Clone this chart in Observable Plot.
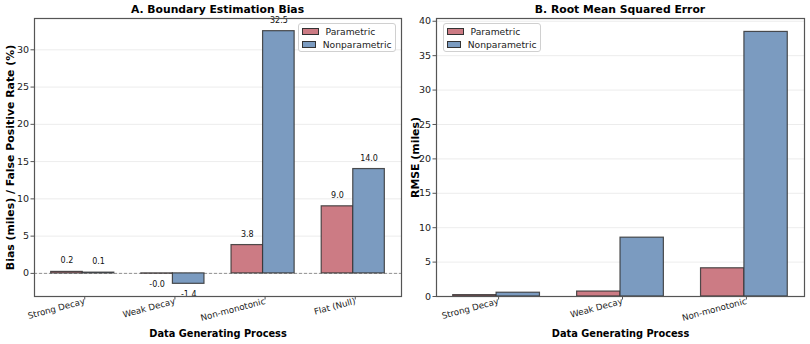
<!DOCTYPE html>
<html><head><meta charset="utf-8">
<script src="https://cdn.jsdelivr.net/npm/d3@7"></script>
<script src="https://cdn.jsdelivr.net/npm/@observablehq/plot@0.6"></script>
<style>
body{margin:0;background:#fff;font-family:"DejaVu Sans",sans-serif;}
#wrap{display:flex;width:810px;height:344px;}
.panel{position:relative;width:405px;height:344px;}
.title{height:16px;line-height:20px;font-weight:bold;font-size:10.8px;text-align:center;color:#000;box-sizing:border-box;white-space:nowrap;}
.legend{position:absolute;border:1px solid #d0d0d0;border-radius:3px;background:rgba(255,255,255,0.85);font-size:9.2px;box-sizing:border-box;padding:2px 3px;color:#222;}
.legend .row{display:flex;align-items:center;height:12.5px;}
.legend .sw{width:17px;height:7px;border:1px solid #333;margin-right:7px;box-sizing:border-box;}
svg{overflow:visible;}
</style>
</head><body>
<div id="wrap">
  <div class="panel" id="pA"></div>
  <div class="panel" id="pB"></div>
</div>
<script>
const categoriesA = ["Strong Decay", "Weak Decay", "Non-monotonic", "Flat (Null)"];
const biasParametric = [0.2, -0.04, 3.8, 9.0];
const biasNonparametric = [0.1, -1.4, 32.5, 14.0];

const categoriesB = ["Strong Decay", "Weak Decay", "Non-monotonic"];
const rmseParametric = [0.2, 0.72, 4.1];
const rmseNonparametric = [0.55, 8.55, 38.45];

const seriesNames = ["Parametric", "Nonparametric"];
const colParam = "#cc7b84";
const colNon = "#7b9bc0";
const barW = 0.35;
const fmt = v => v.toFixed(1);

function rows(cats, p, n) {
  const out = [];
  cats.forEach((c, i) => {
    out.push({i, cat: c, series: seriesNames[0], value: p[i], x1: i - barW, x2: i, xc: i - barW / 2});
    out.push({i, cat: c, series: seriesNames[1], value: n[i], x1: i, x2: i + barW, xc: i + barW / 2});
  });
  return out;
}

function panel(el, opts) {
  const {cats, data, yDomain, yTicks, title, ylabel, mLeft, mRight, labels, zeroRule, legendLeft} = opts;
  const W = 405, H = 328;
  const n = cats.length;
  const xDomain = [-barW - 0.05 * (n - 1 + 2 * barW), n - 1 + barW + 0.05 * (n - 1 + 2 * barW)];
  const t = document.createElement("div");
  t.className = "title";
  t.style.marginLeft = mLeft + "px";
  t.style.width = (W - mLeft - mRight) + "px";
  t.textContent = title;
  el.appendChild(t);

  const marks = [
    Plot.gridY(yTicks, {stroke: "#b0b0b0", strokeOpacity: 0.3, strokeWidth: 0.8}),
  ];
  if (zeroRule) marks.push(Plot.ruleY([0], {stroke: "#888", strokeDasharray: "3,2", strokeWidth: 0.9}));
  marks.push(
    Plot.rect(data, {x1: "x1", x2: "x2", y1: 0, y2: "value", fill: d => d.series === seriesNames[0] ? colParam : colNon, stroke: "#333", strokeWidth: 1.2, strokeOpacity: 0.85})
  );
  if (labels) {
    marks.push(Plot.text(data.filter(d => d.value >= 0), {x: "xc", y: "value", text: d => fmt(d.value), dy: -11, fontSize: 8, fill: "#111"}));
    marks.push(Plot.text(data.filter(d => d.value < 0), {x: "xc", y: "value", text: d => fmt(d.value), dy: 11, fontSize: 8, fill: "#111"}));
  }
  marks.push(
    Plot.frame({stroke: "#555", strokeWidth: 1.2}),
    Plot.axisY(yTicks, {tickSize: 3.5, tickPadding: 2, label: null, fontSize: 9.5, stroke: "#555"}),
    Plot.axisX(d3.range(n), {tickSize: 3.5, tickPadding: 1, tickRotate: -15, tickFormat: i => cats[i], label: null, fontSize: 8.7, dx: 2, stroke: "#555"}),
    Plot.text([ylabel], {frameAnchor: "left", dx: -(mLeft - 10), rotate: -90, textAnchor: "middle", lineAnchor: "middle", fontWeight: "bold", fontSize: 10.9, fill: "#000"}),
    Plot.text(["Data Generating Process"], {frameAnchor: "bottom", dy: 37, textAnchor: "middle", lineAnchor: "middle", fontWeight: "bold", fontSize: 9.8, fill: "#000"})
  );

  const p = Plot.plot({
    width: W, height: H,
    marginTop: 2, marginBottom: 48, marginLeft: mLeft, marginRight: mRight,
    style: {fontFamily: "DejaVu Sans, sans-serif", fontSize: "9.5px", color: "#222", background: "white", overflow: "visible"},
    x: {type: "linear", domain: xDomain},
    y: {domain: yDomain},
    marks
  });
  el.appendChild(p);

  const lg = document.createElement("div");
  lg.className = "legend";
  lg.style.left = legendLeft + "px";
  lg.style.top = "22.5px";
  lg.style.width = "98px";
  lg.style.height = "29px";
  seriesNames.forEach((s, k) => {
    const r = document.createElement("div");
    r.className = "row";
    const sw = document.createElement("div");
    sw.className = "sw";
    sw.style.background = k === 0 ? colParam : colNon;
    const tx = document.createElement("span");
    tx.textContent = s;
    r.appendChild(sw); r.appendChild(tx);
    lg.appendChild(r);
  });
  el.appendChild(lg);
}

panel(document.getElementById("pA"), {
  cats: categoriesA,
  data: rows(categoriesA, biasParametric, biasNonparametric),
  yDomain: [-3.1, 34.2],
  yTicks: [0, 5, 10, 15, 20, 25, 30],
  title: "A. Boundary Estimation Bias",
  ylabel: "Bias (miles) / False Positive Rate (%)",
  mLeft: 34, mRight: 4,
  labels: true, zeroRule: true,
  legendLeft: 297.5
});

panel(document.getElementById("pB"), {
  cats: categoriesB,
  data: rows(categoriesB, rmseParametric, rmseNonparametric),
  yDomain: [0, 40.4],
  yTicks: [0, 5, 10, 15, 20, 25, 30, 35, 40],
  title: "B. Root Mean Squared Error",
  ylabel: "RMSE (miles)",
  mLeft: 31, mRight: 6,
  labels: false, zeroRule: false,
  legendLeft: 37.5
});
</script>
</body></html>
